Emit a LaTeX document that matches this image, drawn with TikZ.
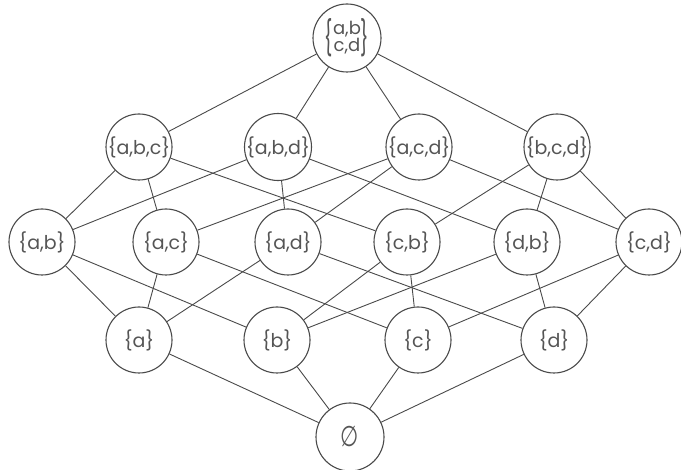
\documentclass[tikz,border=0pt]{standalone}
\usepackage{fontspec}
\setmainfont{Poppins}
\newfontfamily\symfont{DejaVu Sans}
\definecolor{ink}{HTML}{4A4A4A}
\definecolor{txt}{HTML}{555555}
\begin{document}
\begin{tikzpicture}[x=1pt,y=-1pt,
  set/.style={circle,draw=ink,line width=1.1pt,minimum size=66pt,inner sep=0pt,
    font=\fontsize{19}{21}\selectfont,text=txt},
  link/.style={draw=ink,line width=0.9pt}]
\fill[white] (0,0) rectangle (681,470);
\useasboundingbox (0,0) rectangle (681,470);
% top: the whole set, written on two lines between tall braces
\node[set,minimum size=68pt,font=\fontsize{18}{18}\selectfont] (abcd) at (347,38)
  {\raisebox{-0.75ex}{\scalebox{1}[1.9]{\{}}\begin{tabular}{@{}c@{}}a,b\\[-1pt]c,d\end{tabular}\raisebox{-0.75ex}{\scalebox{1}[1.9]{\}}}};
% three-element subsets
\node[set] (abc) at (139,147) {\{a,b,c\}};
\node[set] (abd) at (278,147) {\{a,b,d\}};
\node[set] (acd) at (419,147) {\{a,c,d\}};
\node[set] (bcd) at (557,147) {\{b,c,d\}};
% two-element subsets
\node[set] (ab) at (42,242) {\{a,b\}};
\node[set] (ac) at (166,242) {\{a,c\}};
\node[set] (ad) at (288,242) {\{a,d\}};
\node[set] (cb) at (407,242) {\{c,b\}};
\node[set] (db) at (527,242) {\{d,b\}};
\node[set] (cd) at (649,242) {\{c,d\}};
% singletons
\node[set] (a) at (139,340) {\{a\}};
\node[set] (b) at (277,340) {\{b\}};
\node[set] (c) at (418,340) {\{c\}};
\node[set] (d) at (554,340) {\{d\}};
% empty set
\node[set,minimum size=68pt] (e) at (350,437) {\symfont\scalebox{1.1}[1.5]{∅}};
% covering relations
\foreach \u/\v in {abcd/abc,abcd/abd,abcd/acd,abcd/bcd,
  abc/ab,abc/ac,abc/cb, abd/ab,abd/ad,abd/db,
  acd/ac,acd/ad,acd/cd, bcd/cb,bcd/db,bcd/cd,
  ab/a,ab/b, ac/a,ac/c, ad/a,ad/d, cb/c,cb/b, db/d,db/b, cd/c,cd/d,
  a/e,b/e,c/e,d/e}
  \path[link] (\u) -- (\v);
\end{tikzpicture}
\end{document}
